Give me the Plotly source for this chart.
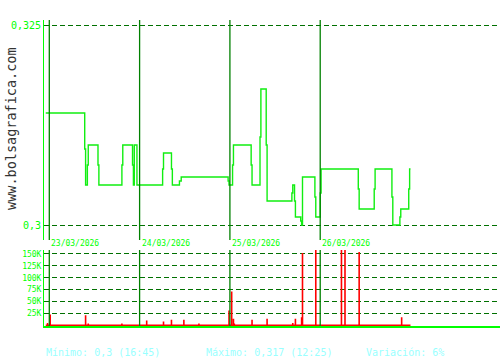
import plotly.graph_objects as go

# ---------------- data ----------------
day_labels = ["23/03/2026", "24/03/2026", "25/03/2026", "26/03/2026"]

# price changes: (day index, time, price) -> step line
price_day = [0, 0, 0, 0, 0, 0, 0, 0, 0, 0, 0, 0, 0,
             1, 1, 1, 1, 1, 1, 1, 1,
             2, 2, 2, 2, 2, 2, 2, 2, 2, 2, 2, 2, 2, 2, 2, 2, 2,
             3, 3, 3, 3, 3, 3, 3, 3, 3, 3, 3, 3, 3]
price_time = ["08:40", "12:20", "12:25", "12:35", "12:40", "13:35", "13:40", "15:50", "15:55",
              "16:50", "16:55", "17:00", "17:15",
              "11:10", "11:15", "12:00", "12:05", "12:45", "12:55", "17:20", "17:25",
              "09:15", "09:20", "11:00", "11:05", "11:50", "11:55", "12:25", "12:30", "14:50",
              "14:55", "15:05", "15:10", "15:40", "15:45", "15:50", "17:00", "17:05",
              "09:00", "09:05", "12:35", "12:40", "14:05", "14:10", "15:45", "15:50", "16:30",
              "16:35", "17:20", "17:25", "17:30"]
price_value = [0.314, 0.3095, 0.305, 0.3075, 0.31, 0.3075, 0.305, 0.3075, 0.31,
               0.3075, 0.305, 0.31, 0.305,
               0.307, 0.309, 0.307, 0.305, 0.3055, 0.306, 0.3055, 0.305,
               0.3075, 0.31, 0.3075, 0.305, 0.311, 0.317, 0.31, 0.303, 0.304,
               0.305, 0.303, 0.301, 0.3005, 0.300, 0.306, 0.3035, 0.301,
               0.304, 0.307, 0.3045, 0.302, 0.3045, 0.307, 0.3035, 0.300, 0.301,
               0.302, 0.3045, 0.307, 0.307]

# volume trades
vol_day = [0, 0, 0, 0, 0,
           1, 1, 1, 1, 1, 1,
           2, 2, 2, 2, 2, 2, 2, 2, 2, 2,
           3, 3, 3, 3]
vol_time = ["08:50", "09:05", "12:25", "12:40", "15:50",
            "09:40", "11:15", "12:00", "13:10", "14:35", "17:25",
            "09:10", "09:20", "09:25", "11:05", "12:30", "14:55", "15:10", "15:45", "15:50", "17:05",
            "11:00", "11:20", "12:40", "16:40"]
vol_value = [5000, 23000, 21000, 4000, 4000,
             10000, 8000, 12000, 12000, 4000, 31000,
             71000, 14000, 4000, 12000, 14000, 5000, 14000, 17000, 152000, 200000,
             190000, 180000, 154000, 17000]
vol_start = (0, "08:40")
vol_end = (3, "17:30")

price_ticks = [0.3, 0.325]
price_ticktext = ["0,3", "0,325"]
vol_ticks = [25000, 50000, 75000, 100000, 125000, 150000]
vol_ticktext = ["25K", "50K", "75K", "100K", "125K", "150K"]

footer = ["Mínimo: 0,3 (16:45)", "Máximo: 0,317 (12:25)", "Variación: 6%"]

# ---------------- helpers ----------------
OPEN_MIN = 9 * 60
SESSION = 510.0


def tpos(day, hhmm):
    h, m = hhmm.split(":")
    return day + (int(h) * 60 + int(m) - OPEN_MIN) / SESSION


px = [tpos(d, t) for d, t in zip(price_day, price_time)]

vx = [tpos(*vol_start)]
vy = [0]
for d, t, v in zip(vol_day, vol_time, vol_value):
    x = tpos(d, t)
    vx += [x, x, x]
    vy += [0, v, 0]
vx.append(tpos(*vol_end))
vy.append(0)

GREEN = "#00ff00"
DARK = "#007000"
SEP = "#008000"
MONO = "DejaVu Sans Mono"

fig = go.Figure()
fig.add_trace(go.Scatter(x=px, y=price_value, mode="lines",
                         line=dict(color="#11ee11", width=1.4, shape="hv"),
                         xaxis="x", yaxis="y", hoverinfo="skip"))
fig.add_trace(go.Scatter(x=vx, y=vy, mode="lines",
                         line=dict(color="#ff0000", width=1.6),
                         xaxis="x", yaxis="y2", hoverinfo="skip"))

ymin, ymax = 0.298125, 0.325625
shapes = []
for i in range(len(day_labels)):
    shapes.append(dict(type="line", xref="x", yref="y domain", x0=i, x1=i,
                       y0=0, y1=1,
                       line=dict(color=SEP, width=1.3)))
    shapes.append(dict(type="line", xref="x", yref="y2 domain", x0=i, x1=i,
                       y0=0, y1=1, line=dict(color=SEP, width=1.3)))

annotations = []
for i, lab in enumerate(day_labels):
    annotations.append(dict(x=i, xref="x", y=(360 - 243) / 360, yref="paper", yanchor="middle",
                            xanchor="left", xshift=0, text=lab, showarrow=False,
                            font=dict(family=MONO, size=8, color=GREEN)))

annotations.append(dict(x=11 / 500, y=(360 - 129) / 360, xref="paper", yref="paper",
                        text="www.bolsagrafica.com", textangle=-90, showarrow=False,
                        xanchor="center", yanchor="middle",
                        font=dict(family=MONO, size=13.5, color="#333333")))
for xpix, txt in zip([44, 204, 364], footer):
    annotations.append(dict(x=xpix / 500, y=(360 - 352) / 360, xref="paper", yref="paper",
                            text=txt, showarrow=False, xanchor="left", yanchor="middle",
                            font=dict(family=MONO, size=10, color="#99ffff")))

fig.update_layout(
    width=500, height=360,
    margin=dict(l=0, r=0, t=0, b=0),
    paper_bgcolor="white", plot_bgcolor="white",
    showlegend=False,
    xaxis=dict(domain=[44 / 500, 1], range=[-0.0587, 4.991], anchor="y2",
               showgrid=False, zeroline=False, showticklabels=False, ticks="",
               showline=True, linecolor=GREEN, linewidth=2),
    yaxis=dict(domain=[(360 - 240) / 360, (360 - 20) / 360], range=[ymin, ymax], anchor="x",
               tickvals=price_ticks, ticktext=price_ticktext, ticks="",
               showgrid=True, gridcolor=DARK, gridwidth=1, griddash="5px,3px",
               zeroline=False, showline=True, linecolor=GREEN, linewidth=1,
               tickfont=dict(family=MONO, size=10, color=GREEN)),
    yaxis2=dict(domain=[(360 - 326) / 360, (360 - 250) / 360], range=[-1400, 158400], anchor="x",
                tickvals=vol_ticks, ticktext=vol_ticktext, ticks="",
                showgrid=True, gridcolor=DARK, gridwidth=1, griddash="5px,3px",
                zeroline=False, showline=True, linecolor=GREEN, linewidth=1,
                tickfont=dict(family=MONO, size=8, color=GREEN)),
    shapes=shapes,
    annotations=annotations,
)

fig.write_html("out.html")
